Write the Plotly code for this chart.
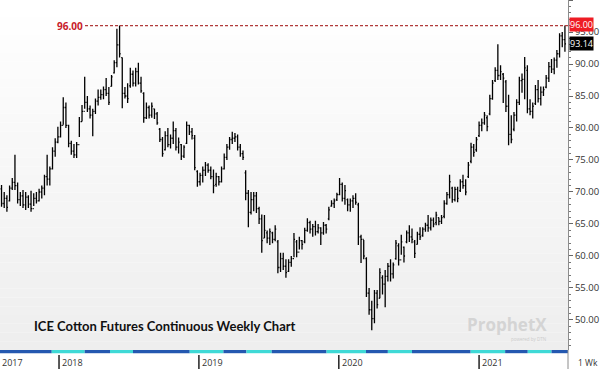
import plotly.graph_objects as go
import pandas as pd

# ---------------- data ----------------
start_week = "2017-08-04"   # first weekly bar (Friday)

high = [71.1,70.0,69.5,71.0,72.2,75.8,71.5,70.0,70.3,70.0,69.5,70.2,69.8,70.0,70.5,71.0,72.7,75.8,74.0,77.0,
        78.4,80.2,81.0,84.8,84.0,80.5,78.0,77.5,77.8,81.7,83.6,88.0,85.0,83.5,83.0,84.6,86.0,86.0,86.5,87.8,
        86.4,88.3,90.6,95.5,96.0,91.0,86.4,87.0,89.4,89.0,89.4,90.2,88.0,85.6,84.0,83.5,84.0,83.0,82.5,80.0,
        78.6,79.5,80.0,79.0,81.0,80.0,78.5,77.5,77.3,81.0,80.5,80.0,78.9,73.4,73.0,74.0,74.7,74.5,74.0,73.5,
        73.0,72.5,74.0,76.0,77.5,78.6,79.4,79.2,79.0,77.5,76.5,73.4,70.3,70.0,70.0,70.0,67.7,66.5,66.4,64.0,
        64.3,63.8,64.8,62.5,60.5,60.5,59.5,59.5,60.0,63.6,62.5,63.0,62.5,64.4,65.9,65.5,65.0,65.5,65.0,64.5,
        65.3,65.0,67.7,68.7,69.0,69.9,72.2,71.5,71.1,69.0,69.0,69.5,69.8,68.3,63.3,62.5,59.8,55.0,53.0,54.7,
        54.7,58.1,57.0,57.8,58.9,59.5,59.0,62.5,62.0,63.3,61.5,64.0,64.8,64.3,62.5,63.8,64.5,64.5,65.2,66.4,
        66.0,66.0,66.9,66.0,66.4,68.7,70.0,72.7,70.8,70.8,70.8,72.0,72.7,72.0,74.7,77.7,77.5,78.6,81.0,81.5,
        82.5,82.0,85.2,87.5,89.5,93.1,89.8,88.6,87.5,85.2,82.0,82.5,84.5,88.0,88.5,91.1,89.8,84.5,84.0,86.7,
        87.5,86.5,86.5,88.3,90.3,90.8,91.0,92.2,94.8,95.0,96.0]

low = [67.7,67.5,66.9,68.5,70.3,70.3,68.2,67.8,67.5,67.2,67.5,66.9,67.8,68.2,68.5,69.0,69.5,71.0,71.0,73.5,
       75.5,77.6,78.5,80.5,80.0,77.0,75.8,75.3,75.3,78.6,81.0,83.0,82.5,81.5,78.7,82.2,83.5,84.4,84.5,85.0,
       83.6,86.5,88.5,89.5,91.0,83.1,84.6,83.9,86.3,86.5,86.5,86.8,85.5,80.8,81.4,81.5,81.6,81.4,80.5,77.8,
       75.5,76.5,77.0,76.8,77.5,76.5,76.0,75.0,75.3,77.5,78.9,78.2,73.4,70.8,71.0,71.5,72.5,73.0,72.0,69.8,
       70.8,71.0,71.5,73.5,75.0,76.6,77.5,77.8,76.5,75.5,75.0,68.7,64.5,66.5,67.0,66.7,65.0,60.5,62.8,62.0,
       61.7,62.0,62.3,57.3,57.5,57.8,56.6,57.5,58.3,59.8,59.8,61.0,61.0,62.0,63.8,63.5,63.0,63.2,63.5,61.7,
       63.3,63.5,65.6,67.7,67.5,68.6,69.5,68.5,68.0,67.0,66.9,67.5,68.0,61.7,58.9,59.5,53.6,50.8,48.4,49.5,
       51.8,53.4,54.0,52.0,56.0,56.0,56.5,59.4,58.5,60.2,59.0,62.0,62.2,62.0,59.7,61.8,62.5,63.0,63.8,63.8,
       64.0,64.5,64.8,64.8,65.0,65.9,68.0,69.0,68.3,68.5,68.4,70.0,70.5,69.5,72.2,74.5,75.5,76.3,78.6,79.5,
       80.5,79.5,82.0,84.4,87.2,87.5,87.5,83.9,82.5,77.3,77.6,79.5,81.0,83.6,85.5,84.5,82.3,82.0,81.5,83.6,
       84.0,83.5,85.0,86.2,87.2,88.6,88.4,89.4,91.0,92.6,91.9]

open_ = [70.5,68.2,69.0,68.6,70.6,71.5,71.0,68.8,69.4,68.0,69.2,68.1,67.4,69.0,68.6,70.0,70.6,72.4,72.0,73.6,
         76.4,77.8,78.6,80.4,83.2,80.4,77.6,76.4,75.8,77.4,81.0,82.6,84.0,83.0,82.0,82.6,84.2,84.8,85.2,86.0,
         85.4,86.5,88.6,90.2,93.0,91.0,85.4,85.0,86.6,88.4,87.0,88.8,87.0,85.4,81.6,83.2,82.0,83.0,82.2,79.8,
         78.2,76.6,78.8,77.4,78.4,79.6,77.0,77.4,75.6,77.6,80.4,79.4,78.4,73.2,71.6,72.6,73.4,74.2,73.4,72.4,
         71.2,72.4,71.6,73.6,75.4,77.0,78.2,78.4,78.6,77.0,76.0,73.0,69.8,66.8,68.8,69.4,67.4,65.8,62.8,63.6,
         62.8,63.6,62.6,62.2,58.2,59.6,58.4,57.6,59.0,59.6,62.2,60.6,62.4,62.2,64.0,65.2,64.2,64.6,63.8,64.4,
         63.6,64.8,65.8,67.8,68.2,68.8,69.6,71.2,69.0,68.8,68.0,68.6,69.0,68.0,63.0,62.6,59.6,54.2,51.6,50.2,
         54.2,53.4,56.6,55.6,56.8,58.4,57.2,59.6,61.6,59.4,61.4,62.2,63.6,63.0,62.2,61.8,63.4,63.2,64.2,64.8,
         64.4,65.6,65.2,66.0,65.4,66.2,68.2,69.6,70.6,68.8,70.4,70.2,71.6,71.0,72.4,74.8,77.0,76.6,78.8,80.4,
         80.8,81.6,82.2,84.6,87.4,89.0,88.2,88.4,87.2,83.4,79.0,79.8,82.0,84.0,87.4,87.6,89.0,83.0,82.6,83.8,
         86.0,84.6,85.6,86.4,87.8,89.6,89.2,90.6,91.6,94.4,93.8]

close = [68.2,69.0,67.6,70.6,71.5,71.0,68.8,69.4,68.0,69.2,68.1,67.4,69.0,68.6,70.0,70.6,72.4,72.0,73.6,76.4,
         77.8,78.6,80.4,83.2,80.4,77.6,76.4,75.8,77.4,81.0,82.6,84.0,83.0,82.0,82.6,84.2,84.8,85.2,86.0,85.4,
         84.0,88.0,90.2,93.0,91.6,85.4,85.0,84.6,88.4,87.0,88.8,87.0,85.8,81.6,83.2,82.0,83.4,82.2,80.8,78.2,
         76.0,78.8,77.4,78.4,79.6,77.0,77.8,75.6,77.0,80.4,79.4,78.8,73.8,71.6,72.6,73.4,74.2,73.4,72.4,71.0,
         72.4,71.6,73.6,75.4,77.0,78.2,78.4,78.6,77.0,76.0,75.4,69.8,66.8,68.8,69.4,67.4,65.8,62.4,64.0,62.8,
         63.8,62.6,64.2,58.2,59.6,58.4,57.4,59.0,59.6,62.6,60.6,62.4,61.8,64.0,65.2,64.2,64.6,63.8,64.4,63.6,
         64.8,64.2,67.2,68.2,68.6,69.6,71.2,69.0,70.2,68.0,68.6,69.0,68.4,63.0,62.6,60.0,54.2,51.6,50.2,54.2,
         52.4,57.4,55.6,56.8,58.4,57.2,58.6,62.0,59.4,62.2,60.0,63.6,63.0,62.6,60.4,63.4,63.0,64.2,64.8,64.4,
         65.6,65.0,66.4,65.4,66.0,68.2,69.6,71.6,68.8,70.4,69.0,71.6,71.0,70.0,74.2,77.0,76.2,78.2,80.4,80.8,
         82.0,80.2,84.6,87.0,89.0,88.2,88.8,87.8,83.4,79.0,78.2,82.0,84.0,87.4,87.6,89.4,83.0,82.6,83.4,86.0,
         84.6,85.6,86.0,87.8,89.6,89.2,90.6,91.6,94.4,93.8,93.14]

peak_level = 96.00
last_close = 93.14

year_labels = ["2017", "2018", "2019", "2020", "2021"]
year_dates = ["2017-01-01", "2018-01-01", "2019-01-01", "2020-01-01", "2021-01-01"]

# contract-roll strip under the chart
roll_dates = ["2017-07-31", "2017-12-13", "2018-03-09", "2018-05-14", "2018-07-13", "2018-12-08",
              "2019-03-06", "2019-05-05", "2019-07-10", "2019-11-30", "2020-03-12", "2020-05-08",
              "2020-07-10", "2020-12-10", "2021-03-10", "2021-05-08", "2021-07-09", "2021-08-21"]

title_text = "ICE Cotton Futures Continuous Weekly Chart"

# ---------------- figure ----------------
dates = pd.date_range(start_week, periods=len(close), freq="7D")

W, H = 600, 369
ML, MR, MT, MB = 0, 32, 0, 19
plot_h = H - MT - MB

fig = go.Figure()
fig.add_trace(go.Ohlc(
    x=dates, open=open_, high=high, low=low, close=close,
    increasing=dict(line=dict(color="#000000", width=1.3)),
    decreasing=dict(line=dict(color="#000000", width=1.3)),
    tickwidth=0.4, hoverinfo="skip", showlegend=False,
))

shapes = []
# background gradient (white at top to light grey at bottom)
nb = 40
for k in range(nb):
    t = k / (nb - 1)
    v = int(round(255 - t * 17))
    shapes.append(dict(type="rect", xref="paper", yref="paper", x0=0, x1=1,
                       y0=1 - (k + 1) / nb, y1=1 - k / nb, layer="below",
                       line=dict(width=0), fillcolor=f"rgb({v},{v},{v})"))

# dashed reference line at the peak
shapes.append(dict(type="line", xref="paper", yref="y", x0=85 / 568, x1=1,
                   y0=peak_level, y1=peak_level,
                   line=dict(color="#b03a3a", width=1.4, dash="3px,2px")))

# contract strip
strip_cols = ["#2458b0", "#3fd9d6"]
s0 = -3.2 / plot_h
for k in range(len(roll_dates) - 1):
    shapes.append(dict(type="rect", xref="x", yref="paper",
                       x0=roll_dates[k], x1=roll_dates[k + 1], y0=s0, y1=0,
                       line=dict(width=0), fillcolor=strip_cols[k % 2]))

# year separators
for d in year_dates[1:]:
    shapes.append(dict(type="line", xref="x", yref="paper", x0=d, x1=d,
                       y0=-5 / plot_h, y1=-19 / plot_h,
                       line=dict(color="#222222", width=1.5)))
# axis separator extending into the date row
shapes.append(dict(type="line", xref="paper", yref="paper", x0=1, x1=1,
                   y0=-19 / plot_h, y1=0, line=dict(color="#8c8c8c", width=1)))

ann = []
for lab, d in zip(year_labels, year_dates):
    if lab == "2017":
        ann.append(dict(x=0, xref="paper", y=-12 / plot_h, yref="paper", text=lab,
                        showarrow=False, xanchor="left", yanchor="middle", xshift=0,
                        font=dict(family="Open Sans", size=9, color="#333333")))
    else:
        ann.append(dict(x=d, xref="x", y=-12 / plot_h, yref="paper", text=lab,
                        showarrow=False, xanchor="left", yanchor="middle", xshift=1,
                        font=dict(family="Open Sans", size=9, color="#333333")))

ann.append(dict(x=1, xref="paper", y=-12 / plot_h, yref="paper", text="1 Wk",
                showarrow=False, xanchor="left", yanchor="middle", xshift=8,
                font=dict(family="Open Sans", size=8.5, color="#333333")))

# peak label on the left
ann.append(dict(x=85 / 568, xref="paper", y=peak_level, yref="y", text=f"<b>{peak_level:.2f}</b>",
                showarrow=False, xanchor="right", yanchor="middle", xshift=0,
                font=dict(family="Open Sans", size=10, color="#c8202a")))
# right-side price tags
ann.append(dict(x=1, xref="paper", y=peak_level, yref="y", text=f"{peak_level:.2f}",
                showarrow=False, xanchor="left", yanchor="middle", xshift=1, yshift=1,
                bgcolor="#ee1c24", borderpad=0,
                font=dict(family="Open Sans", size=9, color="#ffffff")))
ann.append(dict(x=1, xref="paper", y=last_close, yref="y", text=f"{last_close:.2f}",
                showarrow=False, xanchor="left", yanchor="middle", xshift=1,
                bgcolor="#000000", borderpad=0,
                font=dict(family="Open Sans", size=9, color="#ffffff")))

# title inside the chart
ann.append(dict(x=32 / 568, xref="paper", y=(350 - 326) / plot_h, yref="paper",
                text=f"<b>{title_text}</b>", showarrow=False, xanchor="left", yanchor="middle",
                font=dict(family="Lato", size=13, color="#111111")))

# watermark
ann.append(dict(x=507 / 568, xref="paper", y=(350 - 324) / plot_h, yref="paper",
                text="<b>ProphetX</b>", showarrow=False, xanchor="center", yanchor="middle",
                font=dict(family="Open Sans", size=17, color="#d4d4d4")))
ann.append(dict(x=548 / 568, xref="paper", y=(350 - 339) / plot_h, yref="paper",
                text="powered by DTN", showarrow=False, xanchor="right", yanchor="middle",
                font=dict(family="Open Sans", size=4.5, color="#cccccc")))

fig.update_layout(
    width=W, height=H,
    margin=dict(l=ML, r=MR, t=MT, b=MB),
    paper_bgcolor="#ffffff", plot_bgcolor="rgba(0,0,0,0)",
    shapes=shapes, annotations=ann,
    xaxis=dict(type="date", range=["2017-07-31", "2021-08-21"], showgrid=False,
               showticklabels=False, ticks="", zeroline=False, showline=False,
               rangeslider=dict(visible=False), fixedrange=True),
    yaxis=dict(side="right", range=[45.31, 100], showgrid=False, zeroline=False,
               showline=True, linecolor="#8c8c8c", linewidth=1, mirror=False,
               tickmode="linear", tick0=50, dtick=5, tickformat=".2f",
               ticks="outside", ticklen=4, tickcolor="#666666",
               minor=dict(ticks="outside", ticklen=2, dtick=1, tickcolor="#777777"),
               tickfont=dict(family="Open Sans", size=9.5, color="#333333"),
               fixedrange=True),
)

fig.write_html("out.html")
